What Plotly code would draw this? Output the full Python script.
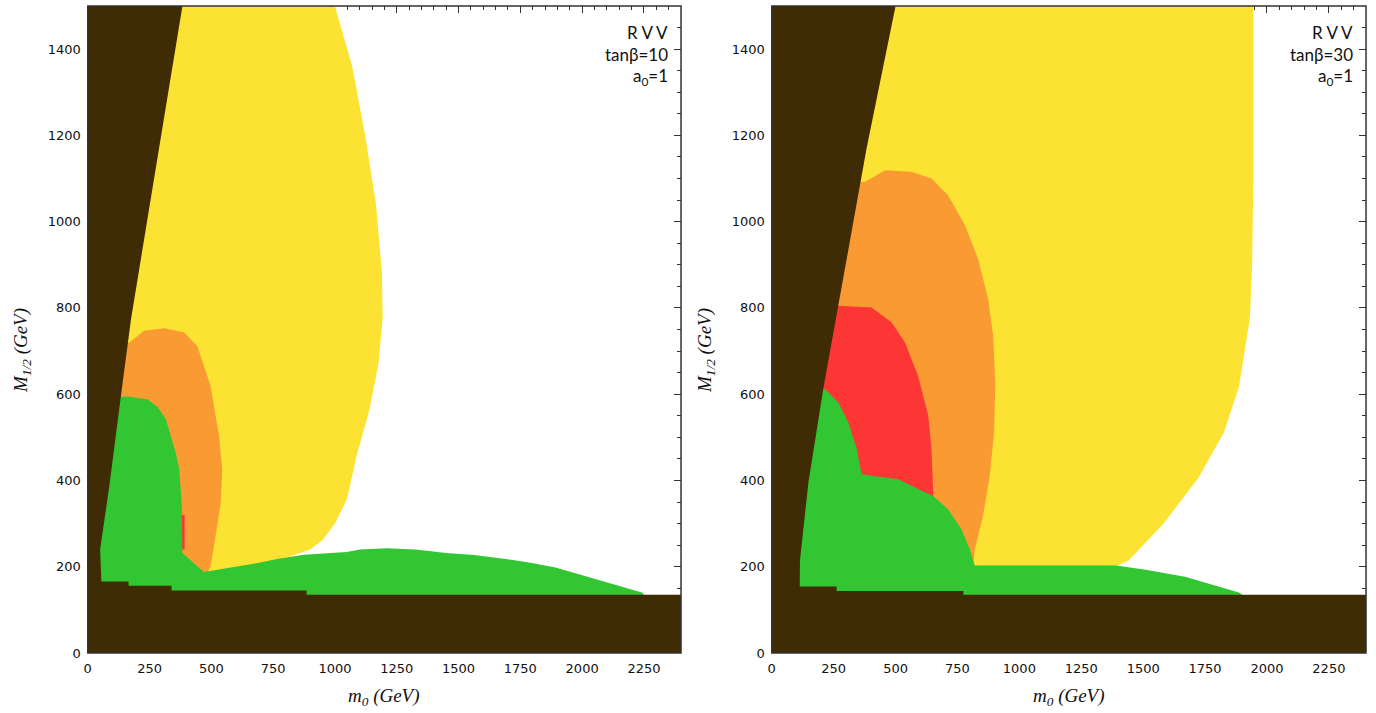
import plotly.graph_objects as go

# ---------------- data (m0 in GeV, M1/2 in GeV) -------------
# Left panel: RVV, tan(beta)=10, a0=1
l_yellow_m0 = [383, 1000, 1070, 1122, 1166, 1190, 1193, 1176, 1140, 1088, 1048, 1000, 950, 900, 850, 700, 480, 40, 40]
l_yellow_M  = [1500, 1500, 1360, 1201, 1041, 882, 777, 670, 565, 458, 356, 300, 262, 240, 230, 200, 180, 180, 1500]

l_orange_m0 = [100, 168, 228, 309, 390, 443, 497, 531, 544, 538, 517, 497, 484, 100]
l_orange_M  = [720, 720, 747, 753, 743, 712, 619, 503, 426, 348, 271, 201, 186, 186]

l_red_m0 = [376, 392, 392, 376]
l_red_M  = [320, 320, 240, 240]

l_green_m0 = [40, 134, 175, 242, 282, 316, 336, 356, 370, 380, 383, 430, 470, 578, 672, 766, 874, 1048,
              1100, 1210, 1327, 1450, 1563, 1690, 1791, 1892, 1952, 2028, 2081, 2141, 2194, 2242, 2255, 40]
l_green_M  = [595, 595, 594, 588, 571, 542, 503, 464, 426, 348, 232, 209, 188, 198, 207, 218, 228, 234,
              240, 243, 240, 232, 227, 218, 209, 198, 188, 177, 167, 157, 149, 140, 132, 130]

l_brown_m0 = [0, 2400, 2400, 885, 885, 339, 339, 165, 165, 55, 50, 87, 134, 175, 383, 0]
l_brown_M  = [0, 0, 135, 135, 145, 145, 156, 156, 166, 166, 240, 386, 595, 774, 1500, 1500]

# Right panel: RVV, tan(beta)=30, a0=1
r_yellow_m0 = [500, 1945, 1945, 1940, 1931, 1887, 1826, 1722, 1581, 1440, 1380, 114, 114]
r_yellow_M  = [1500, 1500, 1100, 900, 777, 617, 511, 405, 299, 214, 198, 198, 1500]

r_orange_m0 = [100, 376, 457, 564, 645, 712, 780, 833, 874, 894, 903, 898, 880, 853, 820, 813, 100]
r_orange_M  = [1092, 1092, 1119, 1116, 1100, 1061, 992, 914, 821, 736, 627, 511, 410, 317, 240, 200, 200]

r_red_m0 = [150, 269, 403, 484, 538, 591, 632, 645, 652, 652, 150]
r_red_M  = [805, 805, 801, 766, 720, 642, 550, 472, 371, 300, 300]

r_green_m0 = [100, 215, 269, 309, 343, 363, 403, 511, 591, 652, 712, 766, 800, 820,
              1391, 1510, 1669, 1790, 1887, 1907, 100]
r_green_M  = [612, 612, 581, 535, 473, 415, 411, 403, 380, 364, 333, 287, 240, 203,
              203, 193, 177, 156, 140, 132, 132]

r_brown_m0 = [0, 2400, 2400, 774, 774, 262, 262, 113, 114, 148, 208, 269, 383, 500, 0]
r_brown_M  = [0, 0, 135, 135, 144, 144, 154, 154, 215, 395, 612, 805, 1170, 1500, 1500]

x_ticks = [0, 250, 500, 750, 1000, 1250, 1500, 1750, 2000, 2250]
y_ticks = [0, 200, 400, 600, 800, 1000, 1200, 1400]
panel_labels = [["R V V", "tanβ=10", "a<sub>0</sub>=1"],
                ["R V V", "tanβ=30", "a<sub>0</sub>=1"]]

# ---------------- styles -------------
C_YELLOW = "#fce333"
C_ORANGE = "#fa9a33"
C_RED = "#fc3535"
C_GREEN = "#33c633"
C_BROWN = "#3f2b04"

W, H = 1376, 713
fig = go.Figure()

panels = [
    dict(xa="x", ya="y", regions=[(l_yellow_m0, l_yellow_M, C_YELLOW), (l_orange_m0, l_orange_M, C_ORANGE),
                                  (l_red_m0, l_red_M, C_RED), (l_green_m0, l_green_M, C_GREEN),
                                  (l_brown_m0, l_brown_M, C_BROWN)]),
    dict(xa="x2", ya="y2", regions=[(r_yellow_m0, r_yellow_M, C_YELLOW), (r_orange_m0, r_orange_M, C_ORANGE),
                                    (r_red_m0, r_red_M, C_RED), (r_green_m0, r_green_M, C_GREEN),
                                    (r_brown_m0, r_brown_M, C_BROWN)]),
]
for p in panels:
    for xs, ys, col in p["regions"]:
        fig.add_trace(go.Scatter(x=xs, y=ys, mode="lines", fill="toself", fillcolor=col,
                                 line=dict(width=0, color=col), hoverinfo="skip",
                                 showlegend=False, xaxis=p["xa"], yaxis=p["ya"]))

tickfont = dict(family="DejaVu Sans", size=13, color="#111111")
axis_common = dict(ticks="inside", ticklen=7, tickwidth=1, tickcolor="#333333",
                   mirror="ticks", showgrid=False, zeroline=False, showline=False,
                   layer="below traces", tickfont=tickfont, fixedrange=True,
                   minor=dict(ticks="inside", ticklen=4, tickcolor="#333333", dtick=50, showgrid=False))

dom_l = [84 / W, 679 / W]
dom_r = [770 / W, 1366 / W]

fig.update_layout(
    width=W, height=H,
    margin=dict(l=0, r=0, t=6, b=60),
    paper_bgcolor="white", plot_bgcolor="white",
    xaxis=dict(domain=dom_l, range=[0, 2400], tickvals=x_ticks, anchor="y", ticklabelstandoff=6, **axis_common),
    yaxis=dict(domain=[0, 1], range=[0, 1500], tickvals=y_ticks, anchor="x", ticklabelstandoff=6, **axis_common),
    xaxis2=dict(domain=dom_r, range=[0, 2400], tickvals=x_ticks, anchor="y2", ticklabelstandoff=6, **axis_common),
    yaxis2=dict(domain=[0, 1], range=[0, 1500], tickvals=y_ticks, anchor="x2", ticklabelstandoff=6, **axis_common),
)

# frames
for xr, yr in (("x", "y"), ("x2", "y2")):
    fig.add_shape(type="rect", xref=f"{xr} domain", yref=f"{yr} domain", x0=0, x1=1, y0=0, y1=1,
                  line=dict(color="#333333", width=1.5), layer="above")

# panel text
label_font = dict(family="Lato", size=17, color="#111111")
ys_lab = [(653 - 32) / 647, (653 - 55) / 647, (653 - 77) / 647]
for (xr, yr), labels in zip((("x", "y"), ("x2", "y2")), panel_labels):
    for t, yy in zip(labels, ys_lab):
        fig.add_annotation(text=t, xref=f"{xr} domain", yref=f"{yr} domain", x=0.982, y=yy,
                           xanchor="right", yanchor="middle", showarrow=False, font=label_font)

# axis titles
title_font = dict(family="Liberation Serif", size=19, color="#111111")
for dom in (dom_l, dom_r):
    fig.add_annotation(text="<i>m</i><sub><i>0</i></sub><i> (GeV)</i>", xref="paper", yref="paper",
                       x=(dom[0] + dom[1]) / 2, y=(653 - 697) / 647, xanchor="center", yanchor="middle",
                       showarrow=False, font=title_font)
    fig.add_annotation(text="<i>M</i><sub><i>1/2</i></sub><i> (GeV)</i>", xref="paper", yref="paper",
                       x=dom[0] - 66 / W, y=(653 - 350) / 647, xanchor="center", yanchor="middle",
                       textangle=-90, showarrow=False, font=title_font)

fig.write_html("out.html", config={"displayModeBar": False},
               post_script="document.body.style.margin='0px';document.body.style.overflow='hidden';")
